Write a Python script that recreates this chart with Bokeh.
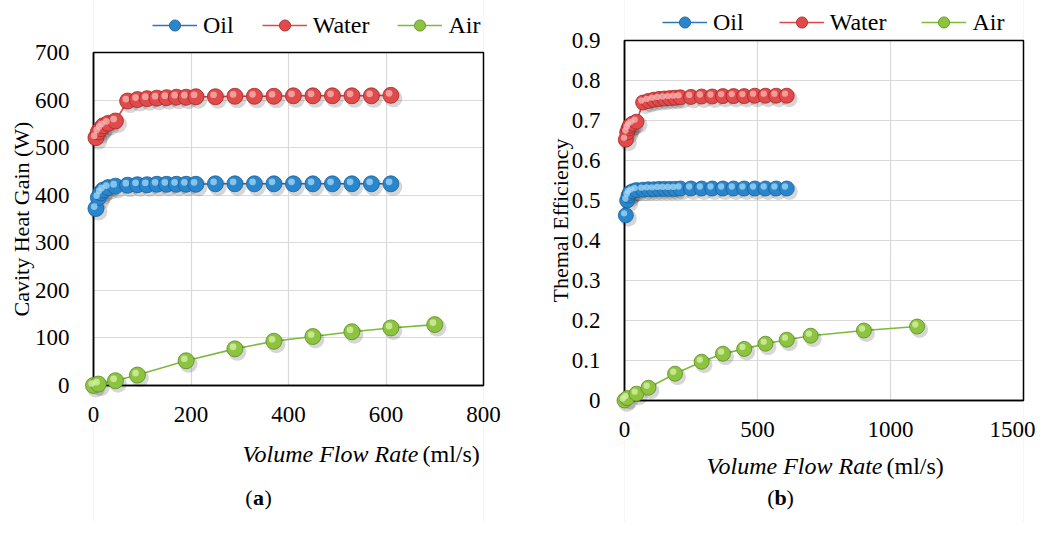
import math
from bokeh.plotting import figure
from bokeh.layouts import row
from bokeh.models import Legend, LegendItem, Range1d, FixedTicker, NumeralTickFormatter
from bokeh.transform import dodge
from bokeh.core.properties import value
from bokeh.embed import file_html
from bokeh.resources import INLINE

# ---------------- data ----------------
flow_liquid = [5, 10, 15, 20, 30, 45, 70, 90, 110, 130, 150, 170, 190, 210,
               250, 290, 330, 370, 410, 450, 490, 530, 570, 610]
oil_gain = [372, 395, 405, 411, 416, 419, 421, 422, 422, 423, 423, 423, 423, 423,
            424, 424, 424, 424, 424, 424, 424, 424, 424, 424]
water_gain = [521, 533, 540, 546, 551, 556, 598, 601, 603, 604, 605, 606, 606, 607,
              607, 608, 608, 608, 609, 609, 609, 609, 609, 610]
flow_air_a = [0, 10, 45, 90, 190, 290, 370, 450, 530, 610, 700]
air_gain = [0, 3, 10, 22, 52, 77, 93, 103, 113, 121, 128]

oil_eff = [0.463, 0.500, 0.512, 0.519, 0.523, 0.526, 0.527, 0.528, 0.528, 0.529, 0.529, 0.529,
           0.529, 0.530, 0.530, 0.530, 0.530, 0.530, 0.530, 0.530, 0.530, 0.530, 0.530, 0.530]
water_eff = [0.652, 0.670, 0.680, 0.687, 0.692, 0.697, 0.745, 0.749, 0.752, 0.754, 0.755, 0.756,
             0.757, 0.758, 0.759, 0.760, 0.760, 0.761, 0.761, 0.761, 0.762, 0.762, 0.762, 0.762]
flow_air_b = [0, 10, 45, 90, 190, 290, 370, 450, 530, 610, 700, 900, 1100]
air_eff = [0, 0.006, 0.017, 0.032, 0.067, 0.097, 0.117, 0.129, 0.142, 0.152, 0.162, 0.175, 0.185]

series_names = ["Oil", "Water", "Air"]
x_ticks_a = [0, 200, 400, 600, 800]
y_ticks_a = [0, 100, 200, 300, 400, 500, 600, 700]
x_ticks_b = [0, 500, 1000, 1500]
y_ticks_b = [0, 0.1, 0.2, 0.3, 0.4, 0.5, 0.6, 0.7, 0.8, 0.9]
x_title_italic = "Volume Flow Rate"
x_title_unit = "(ml/s)"
y_title_a = "Cavity Heat Gain (W)"
y_title_b = "Themal Efficiency"

# ---------------- styles / layout ----------------
FONT = "Liberation Serif"
STY = {
    "Oil":   dict(line="#2E75B6", fill="#2A86CC", edge="#1B5E94", hi="#A6D8F7"),
    "Water": dict(line="#E04848", fill="#E04A4A", edge="#A32626", hi="#F9B8B8"),
    "Air":   dict(line="#7DBA3A", fill="#8CC43F", edge="#5A8A22", hi="#DAF2AE"),
}
CANVAS_H = 522          # figure height
PAGE_TOP = 0            # screenshot row of the figure's top edge


def make_chart(page_left, W, xt, yt, box, series, ylabel, ylab_x, leg_xy, leg_spacing,
               msize, xlab, sub, sub_letter, fmt=None):
    """box = (left, top, right, bottom) screenshot pixels of the plot area."""
    bx0, by0, bx1, by1 = box
    ppu_x = (bx1 - bx0) / (xt[-1] - xt[0])
    ppu_y = (by1 - by0) / (yt[-1] - yt[0])
    x_start = xt[0] - (bx0 - page_left) / ppu_x
    x_end = xt[-1] + (page_left + W - bx1) / ppu_x
    y_end = yt[-1] + (by0 - PAGE_TOP) / ppu_y
    y_start = yt[0] - (PAGE_TOP + CANVAS_H - by1) / ppu_y

    def px_x(px):
        return xt[0] + (px - bx0) / ppu_x

    def px_y(py):
        return yt[0] - (py - by1) / ppu_y

    p = figure(width=W, height=CANVAS_H, x_range=Range1d(x_start, x_end),
               y_range=Range1d(y_start, y_end), output_backend="svg", toolbar_location=None,
               min_border_left=0, min_border_right=0, min_border_top=0, min_border_bottom=0)
    p.background_fill_color = "white"
    p.border_fill_color = "white"
    p.outline_line_color = None
    for g in (p.xgrid[0], p.ygrid[0]):
        g.grid_line_color = "#D9D9D9"
        g.grid_line_width = 1.2
    p.xgrid.ticker = FixedTicker(ticks=xt)
    p.ygrid.ticker = FixedTicker(ticks=yt)
    p.xaxis.ticker = FixedTicker(ticks=xt)
    p.yaxis.ticker = FixedTicker(ticks=yt)
    if fmt:
        p.yaxis.formatter = NumeralTickFormatter(format=fmt)
    p.xaxis.fixed_location = yt[0]
    p.yaxis.fixed_location = xt[0]
    p.xaxis.bounds = (xt[0], xt[-1])
    p.yaxis.bounds = (yt[0], yt[-1])
    for ax in (p.xaxis[0], p.yaxis[0]):
        ax.axis_line_color = "black"
        ax.axis_line_width = 1.5
        ax.major_tick_line_color = None
        ax.minor_tick_line_color = None
        ax.major_label_text_font = FONT
        ax.major_label_text_font_size = "23px"
        ax.major_label_text_color = "black"
    p.xaxis.major_label_standoff = 15
    p.yaxis.major_label_standoff = 18

    # white masks outside the plot area (hide grid lines), then the plot-area border
    p.quad(left=x_start, right=xt[0], bottom=y_start, top=y_end, fill_color="white",
           line_color=None)
    p.quad(left=xt[-1], right=x_end, bottom=y_start, top=y_end, fill_color="white",
           line_color=None)
    p.quad(left=xt[0], right=xt[-1], bottom=y_start, top=yt[0], fill_color="white",
           line_color=None)
    p.quad(left=xt[0], right=xt[-1], bottom=yt[-1], top=y_end, fill_color="white",
           line_color=None)
    p.quad(left=xt[0], right=xt[-1], bottom=yt[0], top=yt[-1], fill_color=None,
           line_color="black", line_width=1.5)

    dx = 1 / ppu_x
    dy = 1 / ppu_y
    items = []
    for name, xs, ys in series:
        s = STY[name]
        src = dict(x=xs, y=ys)
        ln = p.line(x="x", y="y", source=src, line_color=s["line"], line_width=1.6)
        p.scatter(x=dodge("x", 2.5 * dx), y=dodge("y", -3.0 * dy), source=src,
                  size=msize + 2, fill_color="black", fill_alpha=0.16, line_color=None,
                  level="overlay")
        mk = p.scatter(x="x", y="y", source=src, size=msize, fill_color=s["fill"],
                       line_color=s["edge"], line_width=0.8, level="overlay")
        p.scatter(x=dodge("x", -1.8 * dx), y=dodge("y", 2.0 * dy), source=src,
                  size=msize * 0.42, fill_color=s["hi"], fill_alpha=0.75, line_color=None,
                  level="overlay")
        items.append(LegendItem(label=name, renderers=[ln, mk]))

    leg = Legend(items=items,
                 location=(leg_xy[0] - page_left, PAGE_TOP + CANVAS_H - leg_xy[1]),
                 orientation="horizontal", glyph_width=45, glyph_height=28, label_standoff=6,
                 spacing=leg_spacing, padding=0, margin=0, border_line_color=None,
                 background_fill_alpha=0, label_text_font=FONT, label_text_font_size="24px",
                 label_text_color="black")
    p.add_layout(leg, "center")

    common = dict(text_font=value(FONT), text_color="black", text_baseline="middle")
    # y-axis title
    p.text(x=[px_x(ylab_x)], y=[px_y((by0 + by1) / 2)], text=[ylabel], angle=math.pi / 2,
           text_align="center", text_font_size="22px", **common)
    # x-axis title (italic quantity + upright unit)
    ly = px_y(xlab[2])
    p.text(x=[px_x(xlab[0])], y=[ly], text=[x_title_italic], text_align="right",
           text_font_size="24px", text_font_style="italic", **common)
    p.text(x=[px_x(xlab[1])], y=[ly], text=[x_title_unit], text_align="left",
           text_font_size="24px", **common)
    # panel tag
    sy = px_y(sub[1])
    p.text(x=[px_x(sub[0])], y=[sy], text=[sub_letter], text_align="center",
           text_font_size="22px", text_font_style="bold", **common)
    p.text(x=[px_x(sub[0] - 6)], y=[sy], text=["("], text_align="right",
           text_font_size="22px", **common)
    p.text(x=[px_x(sub[0] + 6)], y=[sy], text=[")"], text_align="left",
           text_font_size="22px", **common)
    return p


p1 = make_chart(page_left=0, W=520, xt=x_ticks_a, yt=y_ticks_a, box=(93, 52, 483, 385),
                series=[("Oil", flow_liquid, oil_gain), ("Water", flow_liquid, water_gain),
                        ("Air", flow_air_a, air_gain)],
                ylabel=y_title_a, ylab_x=21, leg_xy=(152, 39), leg_spacing=28, msize=16,
                xlab=(418, 422, 453), sub=(258, 497), sub_letter="a")

p2 = make_chart(page_left=520, W=515, xt=x_ticks_b, yt=y_ticks_b, box=(624, 40, 1023, 400),
                series=[("Oil", flow_liquid, oil_eff), ("Water", flow_liquid, water_eff),
                        ("Air", flow_air_b, air_eff)],
                ylabel=y_title_b, ylab_x=560, leg_xy=(662, 36), leg_spacing=35, msize=15,
                xlab=(882, 886, 465), sub=(780, 497), sub_letter="b", fmt="0.[0]")

layout = row(p1, p2)
open("out.html", "w").write(file_html(layout, INLINE))
